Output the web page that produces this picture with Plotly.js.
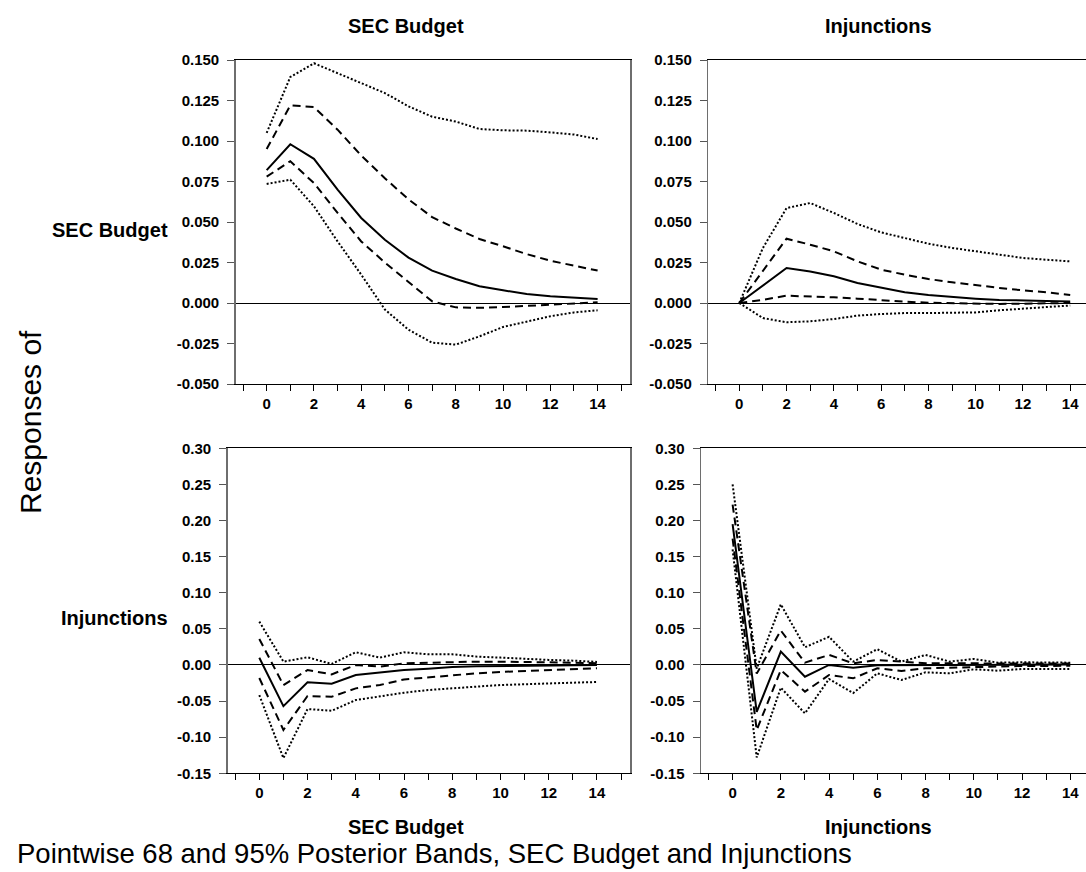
<!DOCTYPE html>
<html>
<head>
<meta charset="utf-8">
<script src="https://cdn.plot.ly/plotly-3.0.1.min.js"></script>
<style>
  html, body { margin: 0; padding: 0; background: #ffffff; overflow: hidden; }
  #chart { width: 1110px; height: 872px; }
</style>
</head>
<body>
<div id="chart"></div>
<script>
// ---------------- DATA ----------------
const horizon = [0, 1, 2, 3, 4, 5, 6, 7, 8, 9, 10, 11, 12, 13, 14];

const shockNames = ["SEC Budget", "Injunctions"];      // column titles / bottom labels
const responseNames = ["SEC Budget", "Injunctions"];   // row labels

// Response of SEC Budget to SEC Budget shock
const budBudMedian = [0.082, 0.098, 0.089, 0.070, 0.0525, 0.039, 0.028, 0.020, 0.0148, 0.0103, 0.0078, 0.0056, 0.0041, 0.0031, 0.0025];
const budBudLo68   = [0.078, 0.0875, 0.074, 0.0556, 0.038, 0.025, 0.013, 0.001, -0.0027, -0.003, -0.0025, -0.0018, -0.001, -0.0003, 0.0004];
const budBudHi68   = [0.095, 0.122, 0.121, 0.107, 0.091, 0.077, 0.064, 0.053, 0.046, 0.0395, 0.035, 0.0302, 0.0261, 0.023, 0.020];
const budBudLo95   = [0.0735, 0.0761, 0.0597, 0.038, 0.0175, -0.004, -0.0165, -0.0245, -0.0257, -0.0206, -0.0148, -0.0113, -0.0082, -0.0058, -0.0045];
const budBudHi95   = [0.105, 0.1395, 0.148, 0.142, 0.1358, 0.1296, 0.1214, 0.115, 0.112, 0.1074, 0.1066, 0.1064, 0.1053, 0.104, 0.1012];

// Response of SEC Budget to Injunctions shock
const budInjMedian = [0, 0.011, 0.0216, 0.0195, 0.0165, 0.0123, 0.0093, 0.0066, 0.0049, 0.0037, 0.0027, 0.0019, 0.0014, 0.0012, 0.001];
const budInjLo68   = [0, 0.002, 0.0045, 0.0041, 0.0035, 0.0027, 0.0016, 0.0008, 0.0002, -0.0002, -0.0006, -0.0006, -0.0004, -0.0002, 0];
const budInjHi68   = [0, 0.0195, 0.0397, 0.036, 0.0319, 0.0257, 0.0206, 0.0175, 0.0148, 0.0128, 0.0109, 0.0093, 0.0078, 0.0066, 0.0049];
const budInjLo95   = [0, -0.0093, -0.0119, -0.0113, -0.0099, -0.0078, -0.0068, -0.0062, -0.0062, -0.0062, -0.0058, -0.0045, -0.0033, -0.0025, -0.0016];
const budInjHi95   = [0, 0.034, 0.0586, 0.0617, 0.0556, 0.0488, 0.0436, 0.0401, 0.0366, 0.034, 0.0319, 0.0298, 0.0278, 0.0267, 0.0257];

// Response of Injunctions to SEC Budget shock
const injBudMedian = [0.010, -0.057, -0.024, -0.026, -0.0139, -0.0102, -0.0069, -0.0051, -0.0028, -0.0019, -0.0014, -0.0009, -0.0005, -0.0005, 0];
const injBudLo68   = [-0.018, -0.090, -0.043, -0.044, -0.0324, -0.0278, -0.020, -0.017, -0.0139, -0.0116, -0.0097, -0.0083, -0.007, -0.006, -0.0046];
const injBudHi68   = [0.036, -0.0278, -0.007, -0.013, 0.0, -0.0023, 0.0023, 0.0032, 0.0046, 0.0046, 0.0046, 0.0037, 0.0037, 0.0032, 0.0023];
const injBudLo95   = [-0.0417, -0.129, -0.061, -0.0634, -0.0486, -0.043, -0.0384, -0.0347, -0.032, -0.030, -0.0278, -0.0264, -0.0255, -0.0245, -0.0236];
const injBudHi95   = [0.060, 0.0046, 0.0106, 0.0014, 0.0176, 0.0102, 0.0176, 0.0148, 0.0148, 0.0116, 0.0102, 0.0083, 0.007, 0.006, 0.0042];

// Response of Injunctions to Injunctions shock
const injInjMedian = [0.195, -0.065, 0.0185, -0.0162, 0.0, -0.0037, -0.0005, -0.0005, 0.0, 0.0005, 0.0005, 0.0005, 0.0005, 0.0005, 0.0005];
const injInjLo68   = [0.175, -0.090, -0.007, -0.037, -0.0139, -0.0185, -0.0046, -0.0083, -0.0046, -0.0037, -0.0023, -0.0023, -0.0014, -0.0014, -0.001];
const injInjHi68   = [0.222, -0.012, 0.0477, 0.0032, 0.0139, 0.0023, 0.0069, 0.0046, 0.0023, 0.0023, 0.002, 0.002, 0.002, 0.002, 0.002];
const injInjLo95   = [0.160, -0.128, -0.0315, -0.067, -0.0194, -0.039, -0.0116, -0.0208, -0.0102, -0.0116, -0.006, -0.0079, -0.0056, -0.0056, -0.0056];
const injInjHi95   = [0.250, -0.005, 0.084, 0.0245, 0.039, 0.0046, 0.0218, 0.0046, 0.0139, 0.0046, 0.0083, 0.0032, 0.0037, 0.0032, 0.0032];

// Tick labels
const topYTickVals   = [-0.050, -0.025, 0.000, 0.025, 0.050, 0.075, 0.100, 0.125, 0.150];
const topYTickText   = ["-0.050", "-0.025", "0.000", "0.025", "0.050", "0.075", "0.100", "0.125", "0.150"];
const botYTickVals   = [-0.15, -0.10, -0.05, 0.00, 0.05, 0.10, 0.15, 0.20, 0.25, 0.30];
const botYTickText   = ["-0.15", "-0.10", "-0.05", "0.00", "0.05", "0.10", "0.15", "0.20", "0.25", "0.30"];

const titleText = "Pointwise 68 and 95% Posterior Bands, SEC Budget and Injunctions";
const sideText = "Responses of";

// ---------------- LAYOUT ----------------
const W = 1110, H = 872;
const px = x => x / W;
const py = y => 1 - y / H;
const FONT = "Liberation Sans, Arial, Helvetica, sans-serif";

const panels = [
  { xa: "x",  ya: "y",  left: 235.7, right: 630.0,  top: 60.0,  bottom: 384.0, yr: [-0.05, 0.15], tv: topYTickVals, tt: topYTickText,
    series: [budBudMedian, budBudLo68, budBudHi68, budBudLo95, budBudHi95] },
  { xa: "x2", ya: "y2", left: 708.3, right: 1102.6, top: 60.0,  bottom: 384.0, yr: [-0.05, 0.15], tv: topYTickVals, tt: topYTickText,
    series: [budInjMedian, budInjLo68, budInjHi68, budInjLo95, budInjHi95] },
  { xa: "x3", ya: "y3", left: 227.7, right: 630.0,  top: 448.3, bottom: 773.3, yr: [-0.15, 0.30], tv: botYTickVals, tt: botYTickText,
    series: [injBudMedian, injBudLo68, injBudHi68, injBudLo95, injBudHi95] },
  { xa: "x4", ya: "y4", left: 701.0, right: 1103.3, top: 448.3, bottom: 773.3, yr: [-0.15, 0.30], tv: botYTickVals, tt: botYTickText,
    series: [injInjMedian, injInjLo68, injInjHi68, injInjLo95, injInjHi95] }
];

const styles = [
  { width: 2, dash: "solid" },
  { width: 2, dash: "8px,5px" },
  { width: 2, dash: "8px,5px" },
  { width: 2, dash: "2px,2px" },
  { width: 2, dash: "2px,2px" }
];

const data = [];
const layout = {
  width: W, height: H,
  margin: { l: 0, r: 0, t: 0, b: 0, pad: 0 },
  paper_bgcolor: "#ffffff",
  plot_bgcolor: "#ffffff",
  showlegend: false,
  font: { family: FONT, color: "#000000" },
  annotations: []
};

panels.forEach((p, i) => {
  p.series.forEach((s, j) => {
    data.push({
      x: horizon, y: s, xaxis: p.xa, yaxis: p.ya,
      type: "scatter", mode: "lines",
      line: { color: "#000000", width: styles[j].width, dash: styles[j].dash },
      hoverinfo: "skip"
    });
  });
  const xk = "xaxis" + (i === 0 ? "" : (i + 1));
  const yk = "yaxis" + (i === 0 ? "" : (i + 1));
  layout[xk] = {
    domain: [px(p.left), px(p.right)],
    anchor: p.ya,
    range: [-1.31, 15.37],
    tickmode: "linear", tick0: 0, dtick: 2,
    ticks: "outside", ticklen: 6, tickwidth: 1, tickcolor: "#000000",
    minor: { tickmode: "linear", tick0: 1, dtick: 1, ticks: "outside", ticklen: 6, tickwidth: 1, tickcolor: "#000000", showgrid: false },
    showline: true, linecolor: "#000000", linewidth: 1, mirror: true,
    showgrid: false, zeroline: false,
    tickfont: { family: FONT, size: 15, weight: "bold", color: "#000000" },
    fixedrange: true
  };
  layout[yk] = {
    domain: [py(p.bottom), py(p.top)],
    anchor: p.xa,
    range: p.yr,
    tickmode: "array", tickvals: p.tv, ticktext: p.tt,
    ticks: "outside", ticklen: 7, tickwidth: 1, tickcolor: "#555555",
    ticklabelstandoff: 5,
    showline: true, linecolor: "#6e6e6e", linewidth: 1.5, mirror: true,
    showgrid: false,
    zeroline: true, zerolinecolor: "#000000", zerolinewidth: 1,
    tickfont: { family: FONT, size: 15, weight: "bold", color: "#000000" },
    fixedrange: true
  };
});

// Column titles (top) and bottom labels
const colCenters = [406, 878];
shockNames.forEach((name, i) => {
  layout.annotations.push({
    text: name, xref: "paper", yref: "paper", x: px(colCenters[i]), y: py(26),
    xanchor: "center", yanchor: "middle", showarrow: false,
    font: { family: FONT, size: 20, weight: "bold", color: "#000000" }
  });
  layout.annotations.push({
    text: name, xref: "paper", yref: "paper", x: px(colCenters[i]), y: py(827),
    xanchor: "center", yanchor: "middle", showarrow: false,
    font: { family: FONT, size: 20, weight: "bold", color: "#000000" }
  });
});

// Row labels
const rowCenters = [230, 618];
responseNames.forEach((name, i) => {
  layout.annotations.push({
    text: name, xref: "paper", yref: "paper", x: px(170), y: py(rowCenters[i]),
    xanchor: "right", yanchor: "middle", showarrow: false,
    font: { family: FONT, size: 20, weight: "bold", color: "#000000" }
  });
});

// Side label
layout.annotations.push({
  text: sideText, xref: "paper", yref: "paper", x: px(30), y: py(422),
  xanchor: "center", yanchor: "middle", showarrow: false, textangle: -90,
  font: { family: FONT, size: 30, color: "#000000" }
});

// Bottom title
layout.annotations.push({
  text: titleText, xref: "paper", yref: "paper", x: px(15), y: py(853),
  xanchor: "left", yanchor: "middle", showarrow: false,
  font: { family: FONT, size: 27.5, color: "#000000" }
});

Plotly.newPlot("chart", data, layout, { displayModeBar: false, staticPlot: true });
</script>
</body>
</html>
